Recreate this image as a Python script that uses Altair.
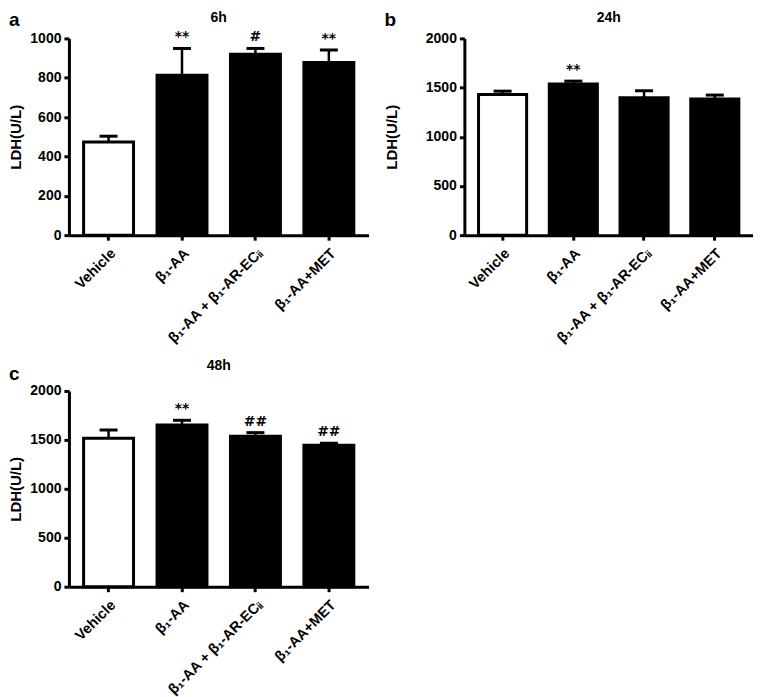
import altair as alt
import pandas as pd

categories = ["Vehicle", "β₁-AA", "β₁-AA + β₁-AR-ECᵢᵢ", "β₁-AA+MET"]
fills = ["white", "black", "black", "black"]

panel_letters = ["a", "b", "c"]
panel_titles = ["6h", "24h", "48h"]

means_6h = [474, 813, 919, 878]
errtop_6h = [503, 949, 949, 941]
marks_6h = ["", "**", "#", "**"]

means_24h = [1431, 1536, 1397, 1383]
errtop_24h = [1464, 1566, 1468, 1424]
marks_24h = ["", "**", "", ""]

means_48h = [1516, 1652, 1537, 1445]
errtop_48h = [1601, 1700, 1574, 1465]
marks_48h = ["", "**", "##", "##"]

FONT = "Liberation Sans"


def panel(letter, title, means, errtop, marks, ymax, step, width, height,
          title_pad, letter_x, letter_y, title_y):
    df = pd.DataFrame({
        "cat": categories,
        "mean": means,
        "err": errtop,
        "mark": marks,
        "fill": fills,
    })
    x = alt.X("cat:N", sort=categories, title=None,
              scale=alt.Scale(paddingInner=0.32, paddingOuter=0.2),
              axis=alt.Axis(labelAngle=-45, labelFontSize=14.5, labelPadding=6,
                            labelBaseline="top", labelAlign="right",
                            tickSize=5, labelLimit=300))
    yscale = alt.Scale(domain=[0, ymax], nice=False)
    yaxis = alt.Axis(values=list(range(0, ymax + 1, step)), tickSize=5,
                     labelPadding=3, titlePadding=title_pad, title="LDH(U/L)",
                     format="d", labelOverlap=False)
    base = alt.Chart(df)
    rule = base.mark_rule(color="black", strokeWidth=2.5).encode(
        x=x, y=alt.Y("mean:Q", scale=yscale, axis=yaxis), y2="err:Q")
    cap = base.mark_tick(color="black", size=18, thickness=3, opacity=1).encode(
        x=x, y=alt.Y("err:Q", scale=yscale, axis=yaxis))
    bars = base.mark_bar(stroke="black", strokeWidth=3).encode(
        x=x, y=alt.Y("mean:Q", scale=yscale, axis=yaxis),
        fill=alt.Fill("fill:N", scale=None))
    txt = base.mark_text(font="DejaVu Sans", fontWeight="bold", fontSize=14,
                         baseline="bottom", dy=-4, color="black").encode(
        x=x, y=alt.Y("err:Q", scale=yscale, axis=yaxis), text="mark:N")
    lab = alt.Chart(pd.DataFrame({"t": [letter]})).mark_text(
        font=FONT, fontWeight="bold", fontSize=19, align="left",
        baseline="top", color="black").encode(
        text="t:N", x=alt.value(letter_x), y=alt.value(letter_y))
    ttl = alt.Chart(pd.DataFrame({"t": [title]})).mark_text(
        font=FONT, fontWeight="bold", fontSize=14, align="center",
        baseline="top", color="black").encode(
        text="t:N", x=alt.value(width / 2), y=alt.value(title_y))
    return alt.layer(rule, cap, bars, txt, lab, ttl).properties(
        width=width, height=height)


pa = panel(panel_letters[0], panel_titles[0], means_6h, errtop_6h, marks_6h,
           1000, 200, 300, 197, 6, -60, -27, -27)
pb = panel(panel_letters[1], panel_titles[1], means_24h, errtop_24h, marks_24h,
           2000, 500, 289, 197, 26, -80, -27, -27)
pc = panel(panel_letters[2], panel_titles[2], means_48h, errtop_48h, marks_48h,
           2000, 500, 300, 196, 6, -60, -26, -32)

top = alt.hconcat(pa, pb, spacing=15)
chart = alt.vconcat(top, pc, spacing=13).properties(
    padding={"top": 3, "left": 0, "right": 0, "bottom": 0}).configure_view(
    stroke=None).configure_axis(
    domainColor="black", domainWidth=3, tickColor="black", tickWidth=3,
    labelFont=FONT, labelFontWeight="bold", labelFontSize=14, labelColor="black",
    titleFont=FONT, titleFontWeight="bold", titleFontSize=15, titleColor="black",
    grid=False)

chart.save("out.html", embed_options={"renderer": "svg", "actions": False})
